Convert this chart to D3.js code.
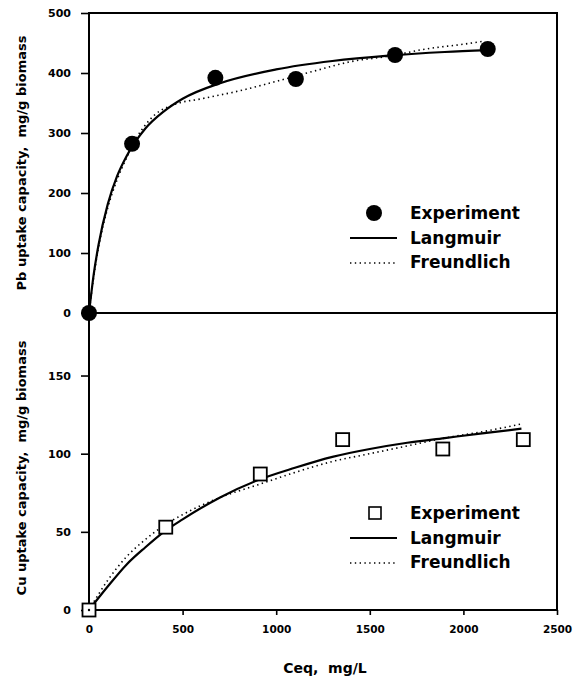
<!DOCTYPE html>
<html><head><meta charset="utf-8">
<script src="https://cdn.jsdelivr.net/npm/d3@7"></script>
<style>body{margin:0;background:#fff} text{white-space:pre}</style>
</head><body>
<svg id="c" width="586" height="677"></svg>
<script>
// ---- data ----
const xTicks = [0, 500, 1000, 1500, 2000, 2500];
const pbTicks = [0, 100, 200, 300, 400, 500];
const cuTicks = [0, 50, 100, 150];

const pbExpC = [0, 230, 675, 1105, 1635, 2130];
const pbExpQ = [0, 282, 392, 390, 430, 440];
const pbLangC = [0, 25, 50, 100, 150, 200, 300, 400, 500, 700, 1000, 1300, 1600, 1900, 2130];
const pbLangQ = [0, 64, 112, 181, 228, 261, 307, 336, 357, 383, 406, 420, 429, 435, 438];
const pbFreuC = [0, 25, 50, 100, 150, 200, 250, 300, 350, 450, 600, 800, 1000, 1200, 1400, 1600, 1800, 2000, 2110];
const pbFreuQ = [0, 60, 108, 175, 222, 258, 290, 313, 330, 347, 357, 370, 386, 403, 419, 428, 440, 448, 453];

const cuExpC = [0, 410, 915, 1355, 1890, 2320];
const cuExpQ = [0, 53, 87, 109, 103, 109];
const cuLangC = [0, 100, 200, 300, 400, 500, 700, 900, 1100, 1300, 1500, 1700, 1900, 2100, 2310];
const cuLangQ = [0, 15, 29, 40, 50, 58, 72, 83, 91, 98, 103, 107, 110, 113, 116];
const cuFreuC = [0, 100, 200, 300, 400, 500, 700, 900, 1100, 1300, 1500, 1700, 1900, 2100, 2310];
const cuFreuQ = [0, 19, 34, 45, 54, 61, 72, 80, 88, 95, 100, 105, 110, 114, 119];

const legendLabels = ["Experiment", "Langmuir", "Freundlich"];
const pbTitle = "Pb uptake capacity,  mg/g biomass";
const cuTitle = "Cu uptake capacity,  mg/g biomass";
const xTitle = "Ceq,  mg/L";

// ---- layout ----
const FONT = "'DejaVu Sans', sans-serif";
const L = 89, R = 557, T = 13, MID = 313, B = 610;
const svg = d3.select("#c");

const x = d3.scaleLinear().domain([0, 2500]).range([L, R]);
const yPb = d3.scaleLinear().domain([0, 500]).range([MID, T]);
const yCu = d3.scaleLinear().domain([0, 190]).range([B, MID]);

const zip = (a, b) => a.map((v, i) => [v, b[i]]);

// axes
function styleAxis(g, size) {
  g.select(".domain").remove();
  g.selectAll(".tick line").attr("stroke", "#000").attr("stroke-width", 1.6);
  g.selectAll(".tick text").attr("fill", "#000")
    .style("font-family", FONT).style("font-weight", "bold").style("font-size", size + "px");
}
svg.append("g").attr("transform", `translate(${L},0)`)
  .call(d3.axisLeft(yPb).tickValues(pbTicks).tickSize(8).tickPadding(10).tickFormat(d3.format("d")))
  .call(g => styleAxis(g, 11));
svg.append("g").attr("transform", `translate(${L},0)`)
  .call(d3.axisLeft(yCu).tickValues(cuTicks).tickSize(8).tickPadding(10).tickFormat(d3.format("d")))
  .call(g => styleAxis(g, 11));
svg.append("g").attr("transform", `translate(0,${B})`)
  .call(d3.axisBottom(x).tickValues(xTicks).tickSize(5).tickPadding(11).tickFormat(d3.format("d")))
  .call(g => styleAxis(g, 10.5));

// frame
const frame = svg.append("g").attr("stroke", "#000").attr("stroke-width", 2).attr("fill", "none");
frame.append("rect").attr("x", L).attr("y", T).attr("width", R - L).attr("height", B - T);
frame.append("line").attr("x1", L).attr("x2", R).attr("y1", MID).attr("y2", MID);

// titles
svg.append("text").attr("transform", `translate(21,163) rotate(-90)`)
  .attr("text-anchor", "middle").attr("dominant-baseline", "central")
  .style("font-family", FONT).style("font-weight", "bold").style("font-size", "13px").text(pbTitle);
svg.append("text").attr("transform", `translate(21,468) rotate(-90)`)
  .attr("text-anchor", "middle").attr("dominant-baseline", "central")
  .style("font-family", FONT).style("font-weight", "bold").style("font-size", "13px").text(cuTitle);
svg.append("text").attr("x", 325).attr("y", 673).attr("text-anchor", "middle")
  .style("font-family", FONT).style("font-weight", "bold").style("font-size", "14px").text(xTitle);

// curves
function curve(yScale, cs, qs, dotted) {
  const line = d3.line().x(d => x(d[0])).y(d => yScale(d[1])).curve(d3.curveMonotoneX);
  svg.append("path").datum(zip(cs, qs)).attr("d", line).attr("fill", "none")
    .attr("stroke", "#000")
    .attr("stroke-width", dotted ? 1.6 : 2.2)
    .attr("stroke-dasharray", dotted ? "1.4,3.4" : null);
}
curve(yPb, pbFreuC, pbFreuQ, true);
curve(yPb, pbLangC, pbLangQ, false);
curve(yCu, cuFreuC, cuFreuQ, true);
curve(yCu, cuLangC, cuLangQ, false);

// markers
svg.append("g").selectAll("circle").data(zip(pbExpC, pbExpQ)).join("circle")
  .attr("cx", d => x(d[0])).attr("cy", d => yPb(d[1])).attr("r", 8).attr("fill", "#000");
const S = 13;
svg.append("g").selectAll("rect").data(zip(cuExpC, cuExpQ)).join("rect")
  .attr("x", d => x(d[0]) - S / 2).attr("y", d => yCu(d[1]) - S / 2)
  .attr("width", S).attr("height", S).attr("fill", "#fff").attr("stroke", "#000").attr("stroke-width", 1.8);
svg.append("circle").attr("cx", x(0)).attr("cy", yCu(0)).attr("r", 1.2).attr("fill", "#000");

// legends
function legend(y0, marker) {
  const g = svg.append("g");
  if (marker === "circle") g.append("circle").attr("cx", 374).attr("cy", y0 - 6).attr("r", 8).attr("fill", "#000");
  else g.append("rect").attr("x", 369).attr("y", y0 - 12).attr("width", 12).attr("height", 12)
    .attr("fill", "#fff").attr("stroke", "#000").attr("stroke-width", 1.6);
  g.append("line").attr("x1", 350).attr("x2", 397).attr("y1", y0 + 19).attr("y2", y0 + 19)
    .attr("stroke", "#000").attr("stroke-width", 2);
  g.append("line").attr("x1", 350).attr("x2", 397).attr("y1", y0 + 44).attr("y2", y0 + 44)
    .attr("stroke", "#000").attr("stroke-width", 1.4).attr("stroke-dasharray", "1.4,3.4");
  g.selectAll("text").data(legendLabels).join("text")
    .attr("x", 410).attr("y", (d, i) => y0 + i * 24.5)
    .style("font-family", FONT).style("font-weight", "bold").style("font-size", "17px").text(d => d);
}
legend(219, "circle");
legend(519, "square");
</script>
</body></html>
